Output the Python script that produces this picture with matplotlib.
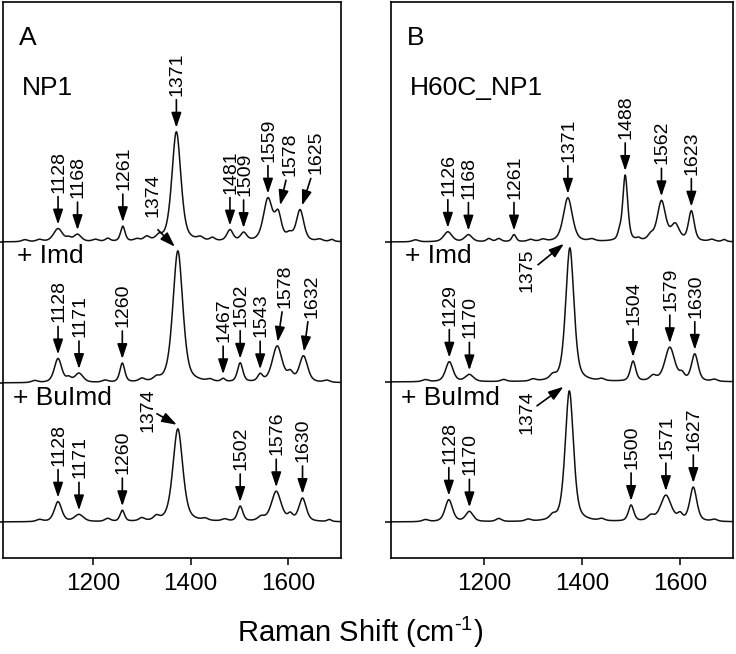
import numpy as np
import matplotlib.pyplot as plt

plt.rcParams['font.family'] = ['Liberation Sans', 'DejaVu Sans']
plt.rcParams['mathtext.fontset'] = 'custom'
plt.rcParams['mathtext.rm'] = 'Liberation Sans'

# ---- band data (centre cm-1, height, fwhm cm-1) ----
# panel A, NP1
np1_pos = [1060, 1090, 1128, 1150, 1168, 1205, 1230, 1261, 1290, 1310, 1335, 1371, 1420, 1445, 1481, 1509, 1559, 1580, 1603, 1625, 1665, 1690]
np1_hgt = [2, 2, 13, 3, 7, 2, 3, 15, 2, 4, 4, 110, 3, 3, 11, 8, 42, 25, 6, 31, 2, 2]
np1_wid = [15, 15, 22, 12, 18, 15, 12, 11, 14, 14, 14, 22, 14, 12, 15, 15, 22, 16, 16, 18, 14, 10]
np1_labels = [1128, 1168, 1261, 1371, 1481, 1509, 1559, 1578, 1625]

# panel A, NP1 + Imd
np1_imd_pos = [1080, 1128, 1150, 1171, 1225, 1260, 1300, 1330, 1374, 1440, 1467, 1502, 1543, 1578, 1605, 1632, 1680]
np1_imd_hgt = [2, 24, 4, 9, 2, 19, 3, 3, 132, 2, 3, 19, 7, 36, 8, 26, 2]
np1_imd_wid = [15, 18, 12, 20, 15, 12, 14, 14, 24, 14, 10, 13, 12, 24, 14, 20, 15]
np1_imd_labels = [1128, 1171, 1260, 1374, 1467, 1502, 1543, 1578, 1632]

# panel A, NP1 + BuImd
np1_bu_pos = [1090, 1128, 1171, 1230, 1260, 1300, 1330, 1374, 1430, 1470, 1502, 1545, 1576, 1605, 1630, 1685]
np1_bu_hgt = [2, 20, 7, 3, 11, 3, 4, 93, 2, 2, 15, 4, 30, 6, 23, 2]
np1_bu_wid = [15, 18, 22, 14, 11, 14, 14, 24, 14, 14, 13, 16, 24, 12, 18, 10]
np1_bu_labels = [1128, 1171, 1260, 1374, 1502, 1576, 1630]

# panel B, H60C_NP1
h60_pos = [1060, 1126, 1168, 1210, 1230, 1261, 1295, 1320, 1371, 1420, 1476, 1488, 1515, 1540, 1562, 1590, 1623, 1665, 1690]
h60_hgt = [2, 10, 7, 3, 3, 7, 2, 2, 44, 2, 6, 66, 2, 5, 40, 16, 30, 2, 2]
h60_wid = [15, 20, 18, 12, 12, 10, 14, 14, 22, 14, 8, 12, 10, 14, 20, 20, 14, 14, 10]
h60_labels = [1126, 1168, 1261, 1371, 1488, 1562, 1623]

# panel B, H60C_NP1 + Imd
h60_imd_pos = [1080, 1129, 1170, 1240, 1300, 1340, 1375, 1440, 1504, 1545, 1579, 1604, 1630, 1670]
h60_imd_hgt = [2, 20, 7, 2, 2, 4, 134, 2, 20, 5, 34, 6, 27, 2]
h60_imd_wid = [15, 18, 20, 14, 14, 14, 20, 14, 13, 16, 24, 12, 16, 14]
h60_imd_labels = [1129, 1170, 1375, 1504, 1579, 1630]

# panel B, H60C_NP1 + BuImd
h60_bu_pos = [1080, 1128, 1170, 1230, 1290, 1340, 1374, 1440, 1500, 1540, 1571, 1600, 1627, 1670]
h60_bu_hgt = [2, 22, 10, 3, 2, 4, 131, 2, 16, 5, 26, 6, 34, 2]
h60_bu_wid = [15, 18, 18, 14, 14, 14, 20, 14, 13, 16, 26, 12, 17, 14]
h60_bu_labels = [1128, 1170, 1374, 1500, 1571, 1627]

# ---- layout ----
# per-label arrow tweaks: (tip_dx, tail_dx, tail_dy, text_dx, text_dy)
default_arrow = (0, 0, 28, 2, 4)
tweaks = {
    ('A', 0, 1578): (6, 18, 25, 8, 4),
    ('A', 0, 1625): (4, 22, 27, 10, 4),
    ('A', 1, 1578): (1, 10, 30, 6, 4),
    ('A', 1, 1632): (1, 9, 30, 9, 4),
    ('A', 1, 1374): (-6, -41, 17, -10, 13),
    ('A', 2, 1374): (-2, -43, 11, -18, -18),
    ('B', 1, 1375): (-12, -65, -21, -22, -27),
    ('B', 2, 1374): (-12, -66, -19, -20, -28),
}
offsets = {'A': [316, 175, 36], 'B': [316, 176, 36]}
xlims = {'A': (1015, 1709), 'B': (1010, 1708)}

panels = {
    'A': [(np1_pos, np1_hgt, np1_wid, np1_labels),
          (np1_imd_pos, np1_imd_hgt, np1_imd_wid, np1_imd_labels),
          (np1_bu_pos, np1_bu_hgt, np1_bu_wid, np1_bu_labels)],
    'B': [(h60_pos, h60_hgt, h60_wid, h60_labels),
          (h60_imd_pos, h60_imd_hgt, h60_imd_wid, h60_imd_labels),
          (h60_bu_pos, h60_bu_hgt, h60_bu_wid, h60_bu_labels)],
}
names = {'A': ['NP1', '+ Imd', '+ BuImd'], 'B': ['H60C_NP1', '+ Imd', '+ BuImd']}


def spectrum(x, pos, hgt, wid, eta=0.5):
    y = np.zeros_like(x)
    for c, h, w in zip(pos, hgt, wid):
        hw = w / 2.0
        lor = 1.0 / (1.0 + ((x - c) / hw) ** 2)
        gau = np.exp(-np.log(2) * ((x - c) / hw) ** 2)
        y += h * (eta * lor + (1 - eta) * gau)
    return y


W, H = 736, 654
fig = plt.figure(figsize=(W / 100, H / 100), dpi=100)
ax_a = fig.add_axes([3 / W, 96 / H, 338 / W, 556 / H])
ax_b = fig.add_axes([391 / W, 96 / H, 342 / W, 556 / H])

x = np.arange(1000, 1720, 1.0)
arrow_kw = dict(arrowstyle='-|>,head_length=0.6,head_width=0.2', color='black',
                lw=1.2, shrinkA=0, shrinkB=0, mutation_scale=15)

for key, ax in (('A', ax_a), ('B', ax_b)):
    for i, (pos, hgt, wid, labels) in enumerate(panels[key]):
        off = offsets[key][i]
        y = spectrum(x, pos, hgt, wid) + off
        ax.plot(x, y, color='#111111', lw=1.1)
        for lab in labels:
            tip_dx, tail_dx, tail_dy, text_dx, text_dy = tweaks.get((key, i, lab), default_arrow)
            peak_y = np.interp(lab, x, y)
            tip = (lab + tip_dx, peak_y + 4)
            tail = (lab + tail_dx, tip[1] + tail_dy)
            ax.annotate('', xy=tip, xytext=tail, arrowprops=arrow_kw)
            ax.text(tail[0] + text_dx, tail[1] + text_dy, str(lab), rotation=90,
                    ha='center', va='bottom', fontsize=14)
    ax.set_xlim(*xlims[key])
    ax.set_ylim(0, 556)
    ax.set_xticks([1200, 1400, 1600])
    ax.set_yticks(offsets[key])
    ax.set_yticklabels([])
    ax.tick_params(axis='x', direction='out', length=5, width=1.1, labelsize=17.5, pad=6)
    ax.tick_params(axis='y', direction='out', length=4, width=1.1)
    for s in ax.spines.values():
        s.set_linewidth(1.2)
    x0 = xlims[key][0]
    ax.text(x0 + 33, 520, key, fontsize=19, va='center', ha='left')
    ax.text(x0 + 39, 470, names[key][0], fontsize=19, va='center', ha='left')
    ax.text(x0 + 29, 302, names[key][1], fontsize=19, va='center', ha='left')
    ax.text(x0 + 21, 160, names[key][2], fontsize=19, va='center', ha='left')

fig.text(360 / W, 1 - 632 / H, r'Raman Shift (cm$^{\text{-1}}$)', fontsize=21,
         ha='center', va='center')

fig.savefig('out.png', dpi=100)
